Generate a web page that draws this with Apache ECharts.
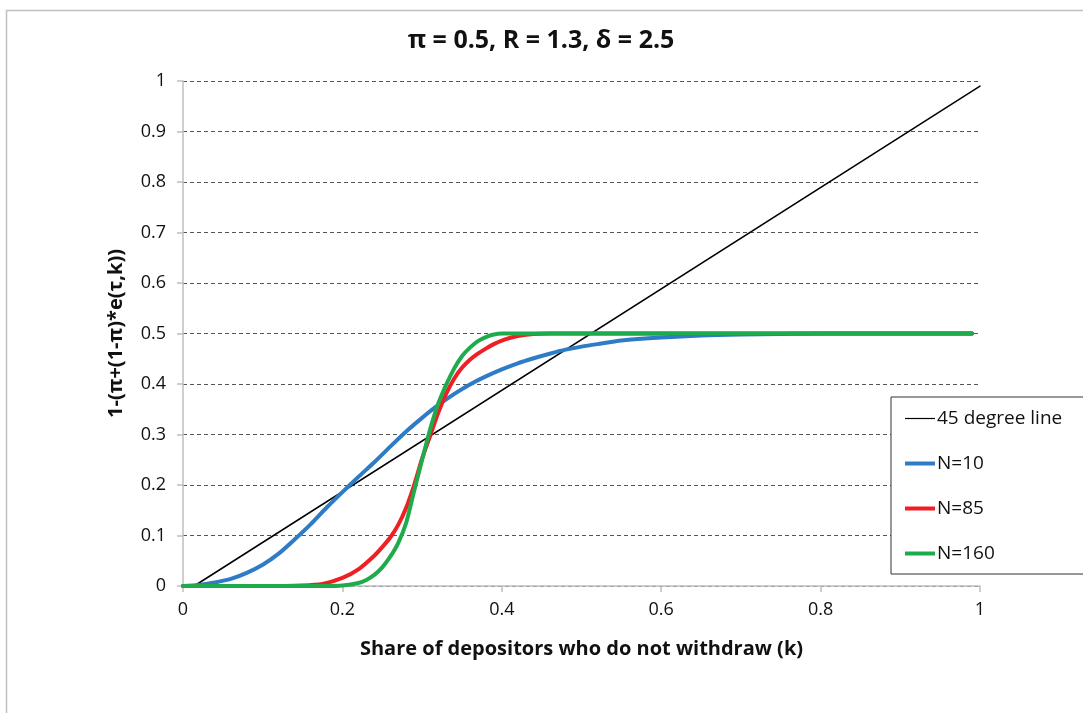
<!DOCTYPE html>
<html>
<head>
<meta charset="utf-8">
<script src="https://cdn.jsdelivr.net/npm/echarts@6/dist/echarts.min.js"></script>
<style>
html,body{margin:0;padding:0;background:#fff;}
#c{width:1083px;height:713px;}
</style>
</head>
<body>
<div id="c"></div>
<script>
// ---- data ----
const titleText = 'π = 0.5, R = 1.3, δ = 2.5';
const xName = 'Share of depositors who do not withdraw (k)';
const yName = '1-(π+(1-π)*e(τ,k))';
const seriesNames = ['45 degree line', 'N=10', 'N=85', 'N=160'];

const lineK = [0.014, 1.0];
const lineY = [0, 0.99];

const n10K = [0, 0.02, 0.04, 0.06, 0.08, 0.10, 0.12, 0.14, 0.16, 0.18, 0.20, 0.22, 0.24, 0.26, 0.28, 0.30, 0.32, 0.34, 0.36, 0.38, 0.40, 0.42, 0.44, 0.46, 0.48, 0.50, 0.52, 0.55, 0.60, 0.65, 0.70, 0.75, 0.80, 0.90, 0.99];
const n10Y = [0, 0.002, 0.007, 0.014, 0.026, 0.042, 0.064, 0.092, 0.122, 0.155, 0.186, 0.216, 0.245, 0.276, 0.306, 0.333, 0.358, 0.380, 0.399, 0.415, 0.429, 0.441, 0.451, 0.460, 0.468, 0.474, 0.479, 0.486, 0.492, 0.496, 0.498, 0.499, 0.5, 0.5, 0.5];

const n85K = [0, 0.10, 0.15, 0.175, 0.20, 0.22, 0.24, 0.25, 0.26, 0.27, 0.28, 0.29, 0.30, 0.31, 0.32, 0.33, 0.34, 0.35, 0.36, 0.37, 0.38, 0.39, 0.40, 0.41, 0.42, 0.44, 0.46, 0.60, 0.80, 0.99];
const n85Y = [0, 0, 0.001, 0.004, 0.016, 0.033, 0.060, 0.077, 0.096, 0.121, 0.155, 0.200, 0.252, 0.297, 0.342, 0.380, 0.410, 0.432, 0.448, 0.460, 0.470, 0.479, 0.486, 0.491, 0.495, 0.499, 0.5, 0.5, 0.5, 0.5];

const n160K = [0, 0.10, 0.18, 0.20, 0.22, 0.23, 0.24, 0.25, 0.26, 0.27, 0.28, 0.29, 0.30, 0.31, 0.32, 0.33, 0.34, 0.35, 0.36, 0.37, 0.38, 0.39, 0.40, 0.60, 0.80, 0.99];
const n160Y = [0, 0, 0, 0.001, 0.006, 0.012, 0.022, 0.037, 0.058, 0.085, 0.125, 0.188, 0.250, 0.310, 0.360, 0.398, 0.430, 0.455, 0.472, 0.485, 0.493, 0.498, 0.5, 0.5, 0.5, 0.5];

const xTicks = [0, 0.2, 0.4, 0.6, 0.8, 1];
const yTicks = [0, 0.1, 0.2, 0.3, 0.4, 0.5, 0.6, 0.7, 0.8, 0.9, 1];

function pairs(xs, ys) { return xs.map((x, i) => [x, ys[i]]); }

const FONT = '"Open Sans"';
const chart = echarts.init(document.getElementById('c'), null, {renderer: 'canvas'});
const colors = ['#000000', '#2e7bc6', '#ee1f25', '#1fab4b'];
const widths = [1.5, 4, 4, 4];
const icons = ['path://M0,0H40V1.6H0Z', 'path://M0,0H30V4H0Z', 'path://M0,0H30V4H0Z', 'path://M0,0H30V4H0Z'];
const datas = [pairs(lineK, lineY), pairs(n10K, n10Y), pairs(n85K, n85Y), pairs(n160K, n160Y)];

chart.setOption({
  animation: false,
  backgroundColor: '#fff',
  textStyle: {fontFamily: FONT},
  graphic: [{
    type: 'rect', left: 4, top: 8, z: -10,
    shape: {width: 1120, height: 740},
    style: {fill: 'none', stroke: '#c0c0c0', lineWidth: 1.5}
  }],
  title: {
    text: titleText, left: 536, top: 23, textAlign: 'center',
    textStyle: {fontFamily: FONT, fontSize: 25, fontWeight: 'bold', color: '#111'}
  },
  grid: {left: 183, right: 103, top: 81, bottom: 127, containLabel: false},
  legend: {
    orient: 'vertical', left: 891, top: 397,
    padding: [12, 40, 11, 14],
    borderColor: '#333', borderWidth: 1, backgroundColor: '#fff',
    itemWidth: 30, itemHeight: 14, itemGap: 26,
    symbolKeepAspect: true,
    textStyle: {fontFamily: FONT, fontSize: 19, color: '#111', padding: [0, 0, 0, -3]},
    data: seriesNames.map((n, i) => ({name: n, icon: icons[i]}))
  },
  xAxis: {
    type: 'value', min: 0, max: 1, interval: 0.2,
    name: xName, nameLocation: 'middle', nameGap: 53,
    nameTextStyle: {fontFamily: FONT, fontSize: 20, fontWeight: 'bold', color: '#111'},
    axisLine: {show: true, lineStyle: {color: '#bfbfbf', width: 1.5}},
    axisTick: {show: true, length: 6, lineStyle: {color: '#bfbfbf', width: 1.5}},
    axisLabel: {fontFamily: FONT, fontSize: 18, color: '#111', margin: 15,
      formatter: v => String(xTicks.find(t => Math.abs(t - v) < 1e-9) ?? v)},
    splitLine: {show: false}
  },
  yAxis: {
    type: 'value', min: 0, max: 1, interval: 0.1,
    name: yName, nameLocation: 'middle', nameGap: 57,
    nameTextStyle: {fontFamily: FONT, fontSize: 20, fontWeight: 'bold', color: '#111'},
    axisLine: {show: true, lineStyle: {color: '#bfbfbf', width: 1.5}},
    axisTick: {show: true, length: 6, lineStyle: {color: '#bfbfbf', width: 1.5}},
    axisLabel: {fontFamily: FONT, fontSize: 18, color: '#111', margin: 17,
      formatter: v => { const t = yTicks.find(t => Math.abs(t - v) < 1e-9); return t === undefined ? '' : String(t); }},
    splitLine: {show: true, lineStyle: {color: '#555', type: [4, 3], width: 1}}
  },
  series: seriesNames.map((name, i) => ({
    name: name, type: 'line', data: datas[i],
    smooth: i === 0 ? false : 0.25,
    showSymbol: false, symbol: 'none',
    color: colors[i],
    lineStyle: {color: colors[i], width: widths[i], cap: 'round', join: 'round'},
    z: 2 + i
  }))
});
</script>
</body>
</html>
